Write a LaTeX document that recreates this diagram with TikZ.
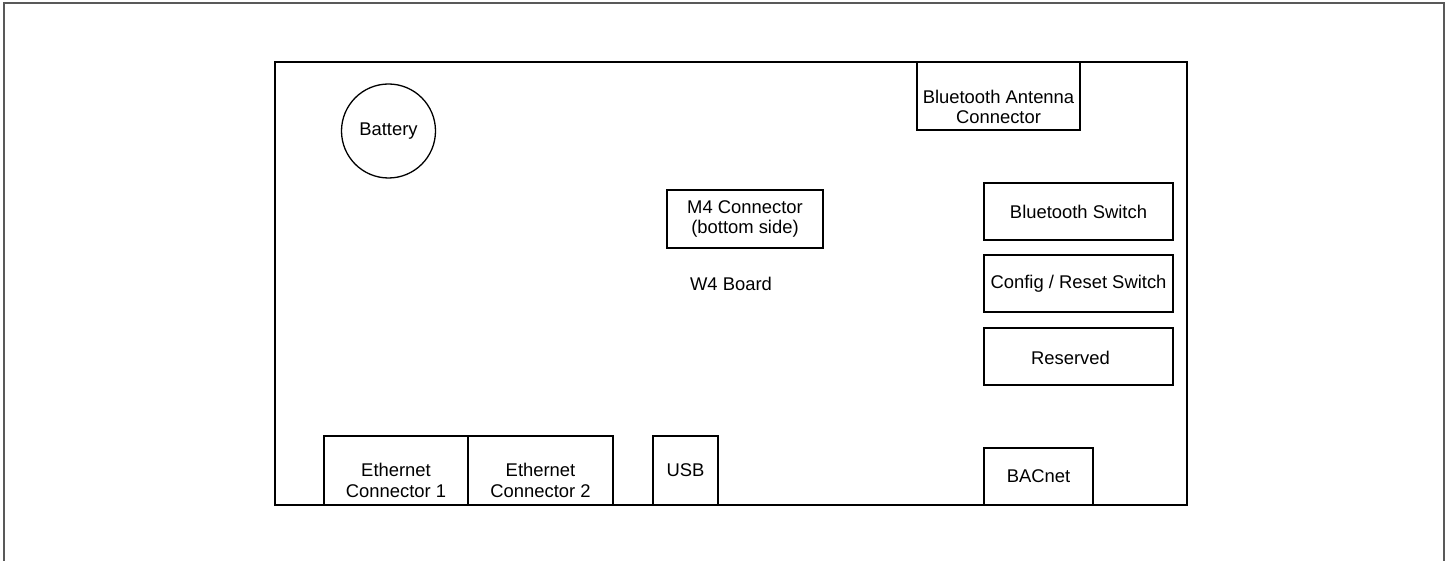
\documentclass[tikz,border=0pt]{standalone}
\usepackage{fontspec}
\setmainfont{Liberation Sans}
\begin{document}
\begin{tikzpicture}[x=1pt,y=-1pt,
  txt/.style={font=\fontsize{18.4}{20.5}\selectfont, align=center},
  box/.style={draw, line width=1.3pt, inner sep=0pt, txt},
  lbl/.style={inner sep=0pt, txt},
  board/.style={draw, line width=1.5pt, inner sep=0pt, txt},
  frame/.style={draw=black!65, line width=1.3pt}]
\useasboundingbox (0,0) rectangle (1450,561);
% outer frame
\draw[frame] (4,561) -- (4,3) -- (1444,3) -- (1444,561);
% board
\node[board, minimum width=912pt, minimum height=443pt] (board) at (731,283.5) {W4 Board};
% battery
\node[box, circle, minimum size=94pt] (bat) at (388.5,131) {Battery};
% bluetooth antenna connector
\node[box, minimum width=163pt, minimum height=68pt] (ant) at (998.5,96) {};
\node[lbl] (antt) at ([yshift=-11pt]ant.center) {Bluetooth Antenna\\Connector};
% M4 connector
\node[box, minimum width=156pt, minimum height=58pt] (m4) at (745,219) {M4 Connector\\(bottom side)};
% switches
\node[box, minimum width=189pt, minimum height=57pt] (bts) at (1078.5,211.5) {Bluetooth Switch};
\node[box, minimum width=189pt, minimum height=57pt] (cfg) at (1078.5,283.5) {Config / Reset Switch};
\node[box, minimum width=189pt, minimum height=57pt] (res) at (1078.5,356.5) {};
\node[lbl] (rest) at ([xshift=-8pt,yshift=-1.5pt]res.center) {Reserved};
% BACnet
\node[box, minimum width=109pt, minimum height=57pt] (bac) at (1038.5,476.5) {BACnet};
% bottom connectors
\node[box, minimum width=144pt, minimum height=69pt] (eth1) at (396,470.5) {};
\node[lbl] (eth1t) at ([yshift=-10pt]eth1.center) {Ethernet\\Connector 1};
\node[box, minimum width=145pt, minimum height=69pt] (eth2) at (540.5,470.5) {};
\node[lbl] (eth2t) at ([yshift=-10pt]eth2.center) {Ethernet\\Connector 2};
\node[box, minimum width=65pt, minimum height=69pt] (usb) at (685.5,470.5) {USB};
\end{tikzpicture}
\end{document}
